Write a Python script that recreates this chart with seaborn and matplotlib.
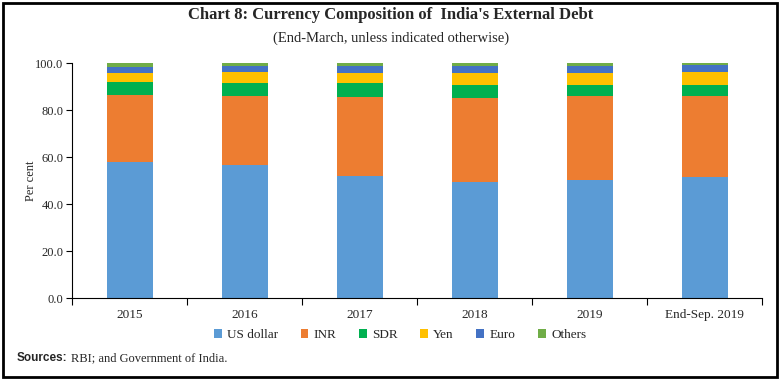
import pandas as pd
import seaborn as sns
import matplotlib.pyplot as plt
from matplotlib.patches import Patch, Rectangle
from matplotlib.ticker import FormatStrFormatter, FixedLocator

# Veriler (yüzde pay)
periods = ["2015", "2016", "2017", "2018", "2019", "End-Sep. 2019"]
currencies = ["US dollar", "INR", "SDR", "Yen", "Euro", "Others"]
us_dollar = [58.2, 56.8, 52.1, 49.6, 50.2, 51.6]
inr = [28.1, 29.2, 33.6, 35.8, 35.8, 34.6]
sdr = [5.7, 5.6, 5.8, 5.3, 4.9, 4.5]
yen = [3.9, 4.6, 4.5, 5.0, 4.9, 5.5]
euro = [2.4, 2.7, 2.8, 3.3, 3.2, 3.1]
others = [1.7, 1.1, 1.2, 1.0, 1.0, 0.7]

colors = ["#5B9BD5", "#ED7D31", "#00B050", "#FFC000", "#4472C4", "#70AD47"]

df = pd.DataFrame({"US dollar": us_dollar, "INR": inr, "SDR": sdr,
                   "Yen": yen, "Euro": euro, "Others": others}, index=periods)
cum = df[currencies].cumsum(axis=1)

sns.set_theme(style="white")
plt.rcParams['font.family'] = ['Liberation Serif', 'DejaVu Serif']

fig = plt.figure(figsize=(7.82, 3.81), dpi=100)
ax = fig.add_axes([72 / 782, 1 - 298.3 / 381, 690 / 782, 235 / 381])

# Yığılmış çubuklar: üstten alta doğru kümülatif toplamları çiz
for cur, col in reversed(list(zip(currencies, colors))):
    plot_df = pd.DataFrame({"period": periods, "value": cum[cur].values})
    sns.barplot(data=plot_df, x="period", y="value", color=col, width=0.4,
                saturation=1, ax=ax, linewidth=0)

ax.set_ylim(0, 100)
ax.set_xlim(-0.5, len(periods) - 0.5)
ax.set_yticks([0, 20, 40, 60, 80, 100])
ax.yaxis.set_major_formatter(FormatStrFormatter("%.1f"))
ax.tick_params(axis="y", direction="out", length=4, width=0.8, color="black",
               labelsize=9, pad=2, left=True)
ax.tick_params(axis="x", which="major", length=0, labelsize=9.5, pad=8)
ax.xaxis.set_minor_locator(FixedLocator([i - 0.5 for i in range(len(periods) + 1)]))
ax.tick_params(axis="x", which="minor", direction="out", length=5, width=0.8,
               color="black", bottom=True)
ax.set_xlabel("")
ax.set_ylabel("Per cent", fontsize=9)
ax.yaxis.set_label_coords(-0.051, 0.5)
for s in ["top", "right"]:
    ax.spines[s].set_visible(False)
for s in ["left", "bottom"]:
    ax.spines[s].set_color("black")
    ax.spines[s].set_linewidth(0.8)

# Lejant
handles = [Patch(facecolor=c, edgecolor="none") for c in colors]
fig.legend(handles, currencies, loc="center", bbox_to_anchor=(400 / 782, 1 - 335 / 381),
           ncol=6, frameon=False, fontsize=9.5, handlelength=0.6, handleheight=0.6,
           handletextpad=0.4, columnspacing=1.7)

# Başlıklar
fig.text(0.5, 1 - 15 / 381, "Chart 8: Currency Composition of  India's External Debt",
         ha="center", va="center", fontsize=12, fontweight="bold")
fig.text(0.5, 1 - 38 / 381, "(End-March, unless indicated otherwise)",
         ha="center", va="center", fontsize=10.5)

# Kaynak
t1 = fig.text(17 / 782, 1 - 361 / 381, "Sources:", ha="left", va="baseline",
              fontsize=8.5, fontweight="bold", family=["Liberation Sans", "DejaVu Sans"])
fig.canvas.draw()
bb = t1.get_window_extent()
fig.text((bb.x1 + 3) / 782, 1 - 361 / 381, "RBI; and Government of India.",
         ha="left", va="baseline", fontsize=9)

# Çerçeve
fig.patches.append(Rectangle((3 / 782, 4 / 381), 774 / 782, 374 / 381,
                             transform=fig.transFigure, fill=False,
                             edgecolor="black", linewidth=2))

fig.savefig("out.png", dpi=100)
